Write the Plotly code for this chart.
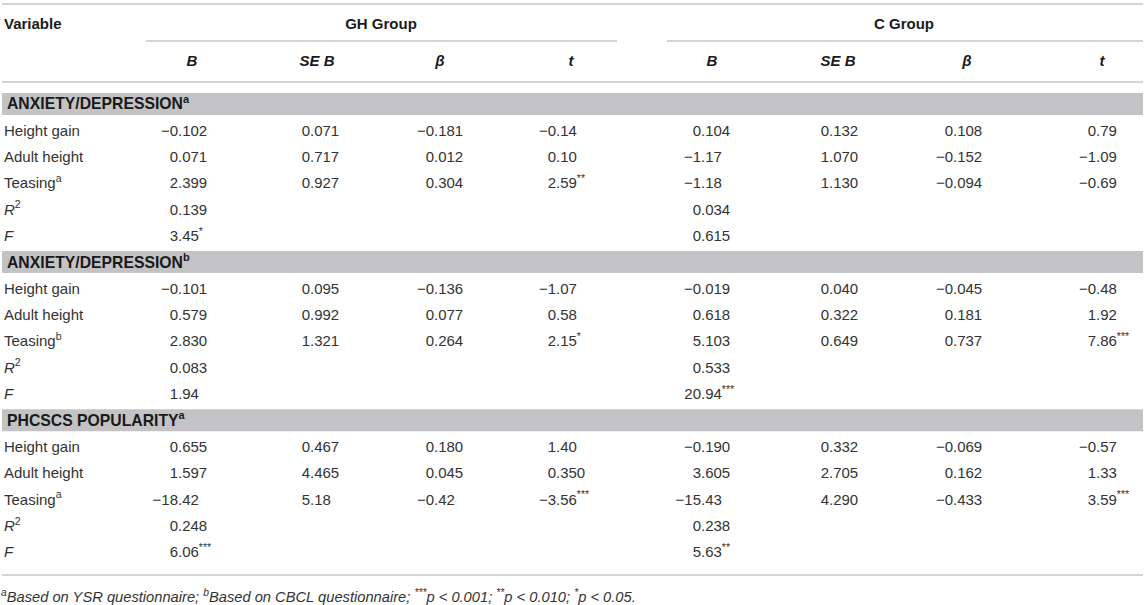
import plotly.graph_objects as go

# ---------------- data ----------------
sections = ["ANXIETY/DEPRESSION<sup>a</sup>",
            "ANXIETY/DEPRESSION<sup>b</sup>",
            "PHCSCS POPULARITY<sup>a</sup>"]
row_labels = [
    ["Height gain", "Adult height", "Teasing<sup>a</sup>", "<i>R</i><sup>2</sup>", "<i>F</i>"],
    ["Height gain", "Adult height", "Teasing<sup>b</sup>", "<i>R</i><sup>2</sup>", "<i>F</i>"],
    ["Height gain", "Adult height", "Teasing<sup>a</sup>", "<i>R</i><sup>2</sup>", "<i>F</i>"],
]
group_labels = ["GH Group", "C Group"]
col_headers = ["<b><i>B</i></b>", "<b><i>SE B</i></b>", "<b><i>β</i></b>", "<b><i>t</i></b>"]

gh_B    = ["−0.102", "0.071", "2.399", "0.139", "3.45*",
           "−0.101", "0.579", "2.830", "0.083", "1.94",
           "0.655", "1.597", "−18.42", "0.248", "6.06***"]
gh_SEB  = ["0.071", "0.717", "0.927", None, None,
           "0.095", "0.992", "1.321", None, None,
           "0.467", "4.465", "5.18", None, None]
gh_beta = ["−0.181", "0.012", "0.304", None, None,
           "−0.136", "0.077", "0.264", None, None,
           "0.180", "0.045", "−0.42", None, None]
gh_t    = ["−0.14", "0.10", "2.59**", None, None,
           "−1.07", "0.58", "2.15*", None, None,
           "1.40", "0.350", "−3.56***", None, None]
c_B     = ["0.104", "−1.17", "−1.18", "0.034", "0.615",
           "−0.019", "0.618", "5.103", "0.533", "20.94***",
           "−0.190", "3.605", "−15.43", "0.238", "5.63**"]
c_SEB   = ["0.132", "1.070", "1.130", None, None,
           "0.040", "0.322", "0.649", None, None,
           "0.332", "2.705", "4.290", None, None]
c_beta  = ["0.108", "−0.152", "−0.094", None, None,
           "−0.045", "0.181", "0.737", None, None,
           "−0.069", "0.162", "−0.433", None, None]
c_t     = ["0.79", "−1.09", "−0.69", None, None,
           "−0.48", "1.92", "7.86***", None, None,
           "−0.57", "1.33", "3.59***", None, None]

footnote = ("<i><sup>a</sup>Based on YSR questionnaire; <sup>b</sup>Based on CBCL questionnaire; "
            "<sup>***</sup>p &lt; 0.001; <sup>**</sup>p &lt; 0.010; <sup>*</sup>p &lt; 0.05.</i>")

# ---------------- layout constants ----------------
W, H = 1145, 605
FONT = "Liberation Sans, Arial, Helvetica, sans-serif"
FS = 15
FS_BAND = 15.75
FS_NOTE = 14.7
TXT = "#333333"
DARK = "#1a1a1a"
LINE = "#c6c6c6"
BAND = "#c3c3c5"

dec_x = [178, 310, 434, 556, 701, 829, 953, 1096]
head_x = [192, 317, 440, 571, 712, 838, 967, 1102]
group_x = [381, 904]
Y0, STEP = 104, 26.35
YOFF = 1.5
label_x, band_x = 4, 7


def row_center(k):
    return Y0 + STEP * k


columns = [gh_B, gh_SEB, gh_beta, gh_t, c_B, c_SEB, c_beta, c_t]

fig = go.Figure()

band_y, band_txt = [], []
lab_y, lab_txt = [], []
ip_x, ip_y, ip_t = [], [], []
fp_x, fp_y, fp_t = [], [], []

for s, title in enumerate(sections):
    kb = s * 6
    band_y.append(row_center(kb))
    band_txt.append("<b>" + title + "</b>")
    for r in range(5):
        k = kb + 1 + r
        idx = s * 5 + r
        lab_y.append(row_center(k) + YOFF)
        lab_txt.append(row_labels[s][r])
        for c, col in enumerate(columns):
            v = col[idx]
            if v is None:
                continue
            stars = v[len(v.rstrip("*")):]
            num = v.rstrip("*")
            ip, fp = num.split(".")
            fp = "." + fp + ("<sup>" + stars + "</sup>" if stars else "")
            ip_x.append(dec_x[c]); ip_y.append(row_center(k) + YOFF); ip_t.append(ip)
            fp_x.append(dec_x[c]); fp_y.append(row_center(k) + YOFF); fp_t.append(fp)

common = dict(mode="text", hoverinfo="skip", cliponaxis=False, showlegend=False)

fig.add_trace(go.Scatter(x=[label_x] * len(lab_y), y=lab_y, text=lab_txt,
                         textposition="middle right",
                         textfont=dict(family=FONT, size=FS, color=TXT), **common))
fig.add_trace(go.Scatter(x=ip_x, y=ip_y, text=ip_t, textposition="middle left",
                         textfont=dict(family=FONT, size=FS, color=TXT), **common))
fig.add_trace(go.Scatter(x=fp_x, y=fp_y, text=fp_t, textposition="middle right",
                         textfont=dict(family=FONT, size=FS, color=TXT), **common))
fig.add_trace(go.Scatter(x=[band_x] * len(band_y), y=[b + YOFF for b in band_y], text=band_txt,
                         textposition="middle right",
                         textfont=dict(family=FONT, size=FS_BAND, color=DARK), **common))
fig.add_trace(go.Scatter(x=[label_x], y=[24 + YOFF], text=["<b>Variable</b>"],
                         textposition="middle right",
                         textfont=dict(family=FONT, size=FS, color=DARK), **common))
fig.add_trace(go.Scatter(x=group_x, y=[24 + YOFF] * 2, text=["<b>" + g + "</b>" for g in group_labels],
                         textposition="middle center",
                         textfont=dict(family=FONT, size=FS, color=DARK), **common))
fig.add_trace(go.Scatter(x=head_x, y=[61 + YOFF] * 8, text=col_headers * 2,
                         textposition="middle center",
                         textfont=dict(family=FONT, size=FS, color=DARK), **common))
fig.add_trace(go.Scatter(x=[1], y=[597 + YOFF], text=[footnote],
                         textposition="middle right",
                         textfont=dict(family=FONT, size=FS_NOTE, color=TXT), **common))

shapes = []
for b in band_y:
    shapes.append(dict(type="rect", xref="x", yref="y", x0=2, x1=1143, y0=b - 11, y1=b + 11,
                       fillcolor=BAND, line=dict(width=0), layer="below"))
for (x0, x1, y) in [(2, 1143, 4), (146, 617, 41), (667, 1143, 41), (2, 1143, 82), (2, 1143, 575)]:
    shapes.append(dict(type="line", xref="x", yref="y", x0=x0, x1=x1, y0=y, y1=y,
                       line=dict(color=LINE, width=1.5)))

fig.update_layout(
    width=W, height=H, margin=dict(l=0, r=0, t=0, b=0),
    paper_bgcolor="white", plot_bgcolor="white",
    xaxis=dict(range=[0, W], visible=False, fixedrange=True),
    yaxis=dict(range=[H, 0], visible=False, fixedrange=True),
    shapes=shapes, showlegend=False,
)

fig.write_html("out.html", config={"displayModeBar": False},
               post_script="document.body.style.margin='0';document.body.style.overflow='hidden';")
